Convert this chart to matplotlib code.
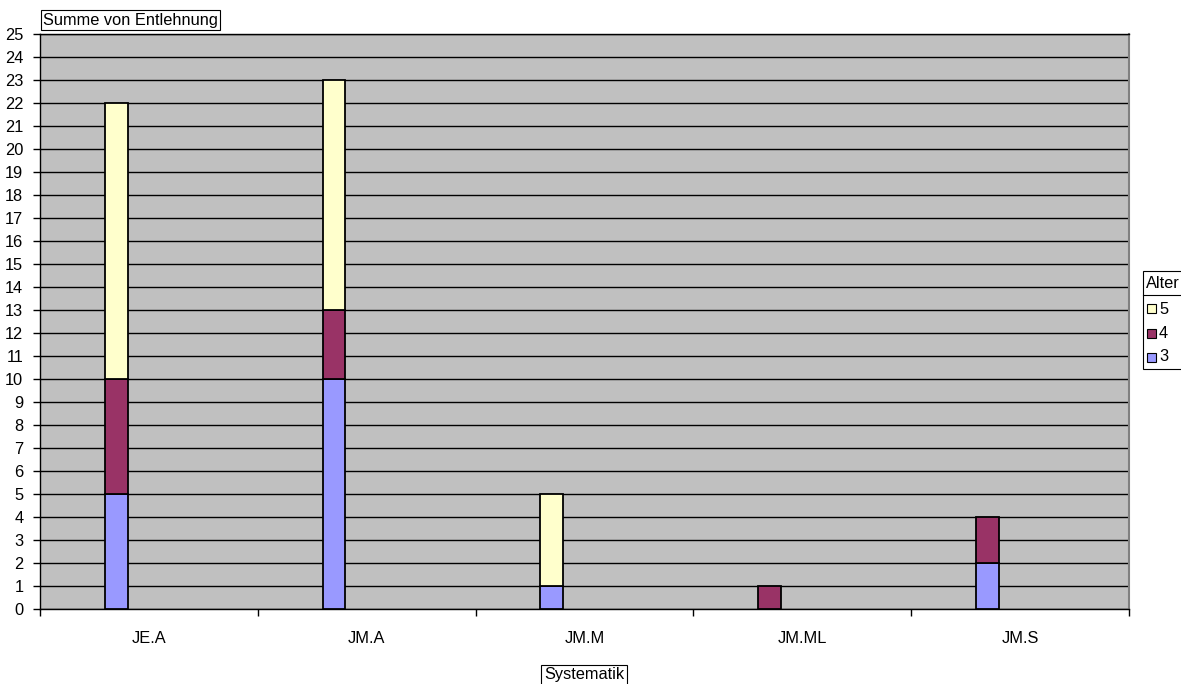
import numpy as np
import matplotlib.pyplot as plt
from matplotlib.patches import Rectangle
from matplotlib.lines import Line2D

plt.rcParams['font.family'] = ['Liberation Sans', 'DejaVu Sans']

# Summe von Entlehnung je Systematik, gestapelt nach Alter
systematik = ['JE.A', 'JM.A', 'JM.M', 'JM.ML', 'JM.S']
alter_3 = [5, 10, 1, 0, 2]
alter_4 = [5, 3, 0, 1, 2]
alter_5 = [12, 10, 4, 0, 0]
alter_labels = ['5', '4', '3']
farben = {'3': '#9999FF', '4': '#993366', '5': '#FFFFCC'}

fs = 11.8
fig = plt.figure(figsize=(11.81, 6.84), dpi=100)
ax = fig.add_axes([40 / 1181, 1 - 609 / 684, (1129 - 40) / 1181, (609 - 34) / 684])
ax.set_facecolor('#C0C0C0')

x = np.arange(len(systematik)) - 0.15
w = 0.105
a3 = np.array(alter_3)
a4 = np.array(alter_4)
a5 = np.array(alter_5)
for vals, bottom, key in [(a3, 0, '3'), (a4, a3, '4'), (a5, a3 + a4, '5')]:
    bottom = np.zeros(len(vals)) + bottom
    mask = vals > 0
    ax.bar(x[mask], vals[mask], width=w, bottom=bottom[mask], color=farben[key],
           edgecolor='black', linewidth=1.3, zorder=3)

ax.set_xlim(-0.5, len(systematik) - 0.5)
ax.set_ylim(0, 25)
ax.set_yticks(range(0, 26))
ax.yaxis.grid(True, color='black', linewidth=1.0, zorder=1)
ax.set_axisbelow(True)
ax.tick_params(axis='y', length=5, width=1, pad=7, labelsize=fs)

ax.set_xticks(range(len(systematik)))
ax.set_xticklabels(systematik)
ax.set_xticks(np.arange(-0.5, len(systematik)), minor=True)
ax.tick_params(axis='x', which='major', length=0, pad=16, labelsize=fs)
ax.tick_params(axis='x', which='minor', length=5, width=1)

for s in ['left', 'bottom', 'top']:
    ax.spines[s].set_color('black')
    ax.spines[s].set_linewidth(1.0)
ax.spines['right'].set_color('#808080')
ax.spines['right'].set_linewidth(1.5)

box = dict(boxstyle='square,pad=0.15', facecolor='white', edgecolor='black', linewidth=0.8)
fig.text(43 / 1181, 1 - 20 / 684, 'Summe von Entlehnung', fontsize=fs, ha='left', va='center', bbox=box)
fig.text(584 / 1181, 1 - 675 / 684, 'Systematik', fontsize=fs, ha='center', va='center', bbox=box)

# Legende "Alter"
W, H = 1181, 684
def fx(px):
    return px / W
def fy(py):
    return 1 - py / H

fig.patches.append(Rectangle((fx(1143), fy(369)), fx(60), (369 - 271) / H, transform=fig.transFigure,
                             facecolor='white', edgecolor='black', linewidth=0.8))
fig.lines.append(Line2D([fx(1143), fx(1185)], [fy(295), fy(295)], transform=fig.transFigure,
                        color='black', linewidth=0.8))
fig.text(fx(1146), fy(283), 'Alter', fontsize=fs, ha='left', va='center')
for i, lab in enumerate(alter_labels):
    yc = 309 + 24 * i
    fig.patches.append(Rectangle((fx(1147), fy(yc + 4.5)), fx(9), 9 / H, transform=fig.transFigure,
                                 facecolor=farben[lab], edgecolor='black', linewidth=0.8))
    fig.text(fx(1159), fy(yc), lab, fontsize=fs, ha='left', va='center')

fig.savefig('out.png', dpi=100)
